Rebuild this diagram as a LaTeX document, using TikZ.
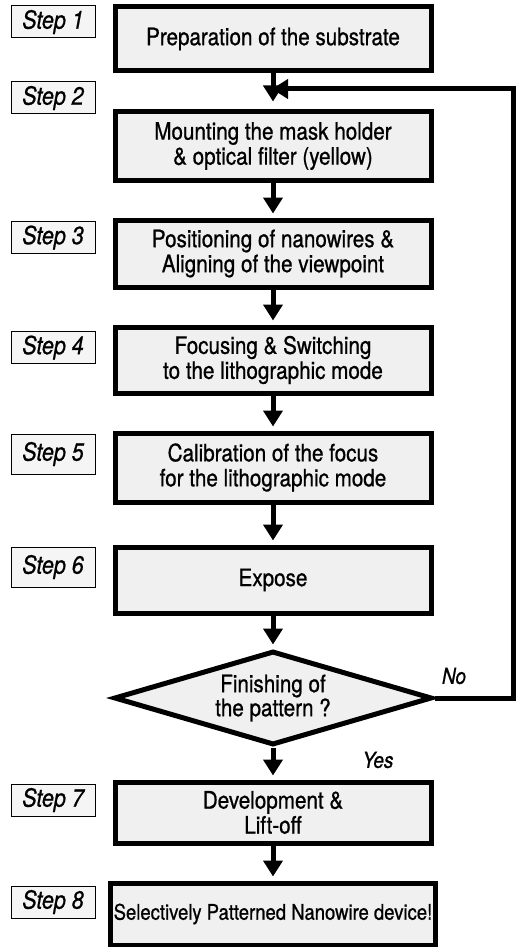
\documentclass[tikz,border=0pt]{standalone}
\usepackage{fontspec}
\setmainfont{TeX Gyre Heros}[FakeStretch=0.86, FakeBold=0.8]
\usepackage{tikz}
\usetikzlibrary{positioning,calc,arrows.meta,shapes.geometric}

\begin{document}
\begin{tikzpicture}[x=1pt, y=-1pt,
        procbox/.style={draw=black, line width=5pt, fill=gray!12, minimum width=316pt, minimum height=64pt, align=center, font=\fontsize{24}{25}\selectfont},
        stepbox/.style={draw=black, line width=1pt, fill=gray!8, minimum width=84pt, minimum height=32pt, font=\fontsize{25}{26}\selectfont\itshape},
        flow/.style={line width=5pt, -{Triangle[length=16pt,width=19pt]}, shorten >=4pt}]
        \useasboundingbox (0,0) rectangle (518,947);

        \node (prep) [procbox] at (273,39) {Preparation of the substrate};
        \node (mount) [procbox, minimum height=68pt] at (273,146) {Mounting the mask holder\\\& optical filter (yellow)};
        \node (align) [procbox, minimum height=67pt] at (273,253.5) {Positioning of nanowires \&\\Aligning of the viewpoint};
        \node (focus) [procbox, minimum height=66pt] at (273,360) {Focusing \& Switching\\to the lithographic mode};
        \node (calib) [procbox, minimum height=69pt] at (273,467.5) {Calibration of the focus\\for the lithographic mode};
        \node (expose) [procbox, minimum height=66pt] at (273,580) {Expose};
        \node (check) [diamond, aspect=3.4, draw=black, line width=5pt, fill=gray!12, minimum width=318pt, minimum height=94pt, inner sep=0pt, align=center, font=\fontsize{24}{24}\selectfont] at (273,698) {Finishing of\\the pattern ?};
        \node (develop) [procbox, minimum height=61pt] at (273,812.5) {Development \&\\Lift-off};
        \node (device) [procbox, minimum height=62pt, font=\fontsize{21.5}{24}\selectfont] at (273,914) {Selectively Patterned Nanowire device!};

        \node (s1) [stepbox] at (53,22) {Step 1};
        \node (s2) [stepbox] at (53,98) {Step 2};
        \node (s3) [stepbox] at (53,237.5) {Step 3};
        \node (s4) [stepbox] at (53,347.5) {Step 4};
        \node (s5) [stepbox, minimum height=40pt] at (53,454) {Step 5};
        \node (s6) [stepbox, minimum height=40pt] at (53,567) {Step 6};
        \node (s7) [stepbox] at (53,800) {Step 7};
        \node (s8) [stepbox] at (53,902) {Step 8};

        \node (no) [font=\fontsize{22}{22}\selectfont\itshape] at (454,676) {No};
        \node (yes) [font=\fontsize{22}{22}\selectfont\itshape] at (378,760) {Yes};

        \coordinate (join) at (272,89);
        \coordinate (loop) at (513,0);

        \draw[flow, shorten >=8pt] (prep) -- (mount);
        \draw[flow] (mount) -- (align);
        \draw[flow] (align) -- (focus);
        \draw[flow] (focus) -- (calib);
        \draw[flow] (calib) -- (expose);
        \draw[flow] (expose) -- (check);
        \draw[flow] (check) -- (develop);
        \draw[flow] (develop) -- (device);
        \draw[flow, shorten >=0pt, line join=miter] (check.east) -| (loop |- join) -- (join);
    \end{tikzpicture}
\end{document}
